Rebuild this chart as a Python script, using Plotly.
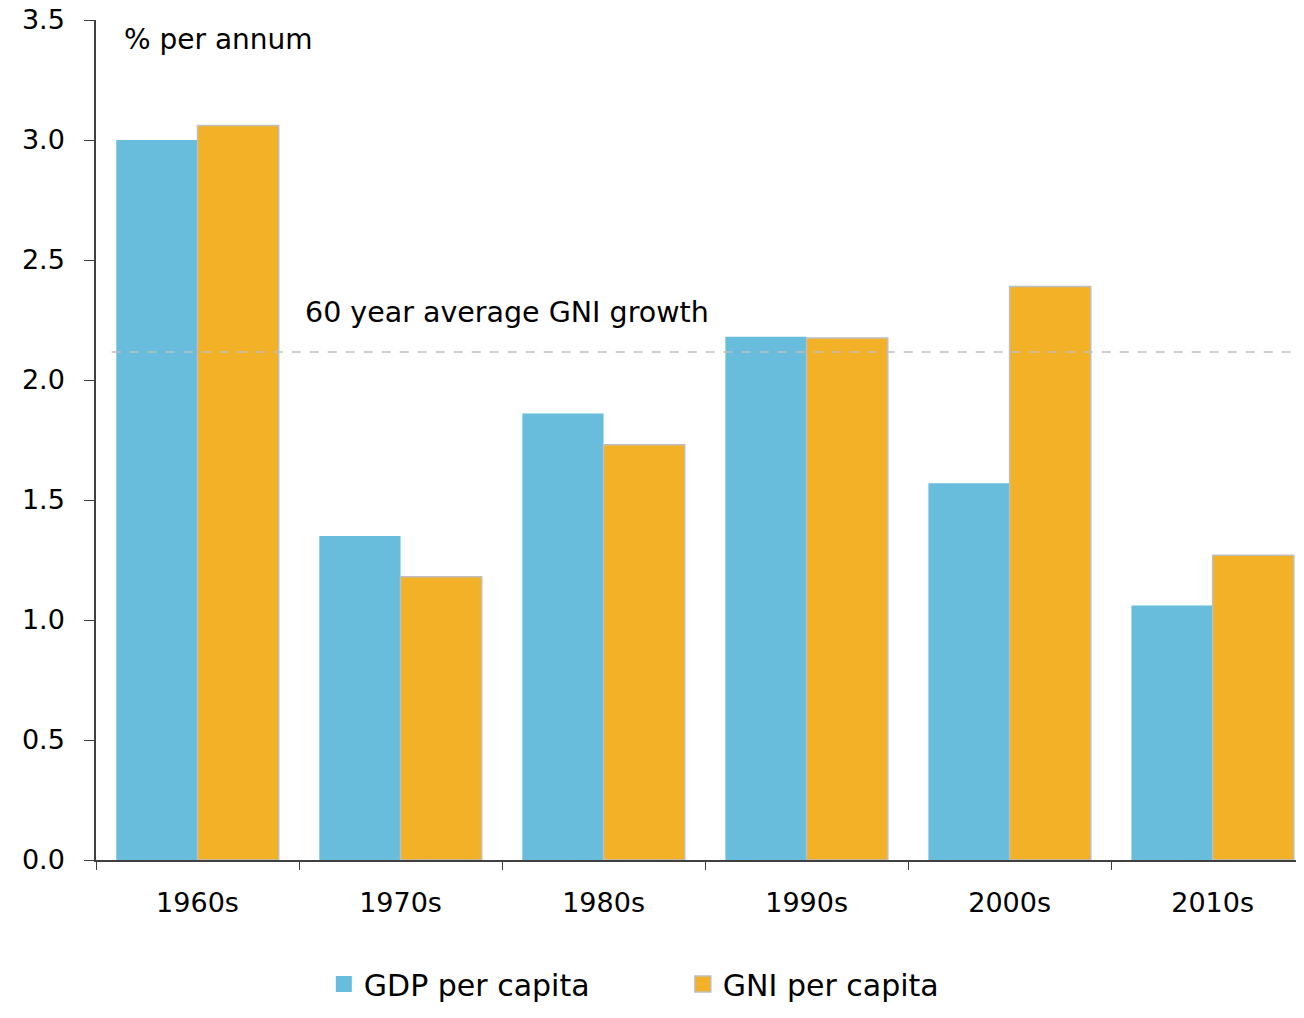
import plotly.graph_objects as go

decades = ["1960s", "1970s", "1980s", "1990s", "2000s", "2010s"]
gdp_per_capita = [3.00, 1.35, 1.86, 2.18, 1.57, 1.06]
gni_per_capita = [3.06, 1.18, 1.73, 2.175, 2.39, 1.27]
avg_gni_growth = 2.117
y_ticks = [0.0, 0.5, 1.0, 1.5, 2.0, 2.5, 3.0, 3.5]

FONT = "DejaVu Sans"
BLUE = "#67BDDB"
ORANGE = "#F2B126"
OUTLINE = "#BFBFBF"

fig = go.Figure()
fig.add_trace(go.Bar(
    x=decades, y=gdp_per_capita, name="GDP per capita", showlegend=False,
    marker=dict(color=BLUE, line=dict(width=0)),
))
fig.add_trace(go.Bar(
    x=decades, y=gni_per_capita, name="GNI per capita", showlegend=False,
    marker=dict(color=ORANGE, line=dict(color=OUTLINE, width=1.5)),
))
# legend entries (square swatches)
fig.add_trace(go.Scatter(
    x=[None], y=[None], mode="markers", name="GDP per capita",
    marker=dict(symbol="square", size=18, color=BLUE, line=dict(width=0)),
))
fig.add_trace(go.Scatter(
    x=[None], y=[None], mode="markers", name="GNI per capita",
    marker=dict(symbol="square", size=18, color=ORANGE, line=dict(color=OUTLINE, width=1.5)),
))

fig.add_shape(type="line", xref="paper", yref="y",
              x0=0.013, x1=1, y0=avg_gni_growth, y1=avg_gni_growth,
              line=dict(color="#C0C0C0", width=1.5, dash="dash"), layer="above")

fig.add_annotation(xref="paper", yref="y", x=0.171, y=2.28,
                   text="60 year average GNI growth", showarrow=False,
                   xanchor="left", yanchor="middle",
                   font=dict(family=FONT, size=28.5, color="#000000"))
fig.add_annotation(xref="paper", yref="y", x=0.0215, y=3.417,
                   text="% per annum", showarrow=False,
                   xanchor="left", yanchor="middle",
                   font=dict(family=FONT, size=28, color="#000000"))

fig.update_layout(
    width=1296, height=1002,
    margin=dict(l=88, r=0, t=12, b=150, autoexpand=False),
    paper_bgcolor="white", plot_bgcolor="white",
    barmode="group", bargap=0.2, bargroupgap=0,
    font=dict(family=FONT, size=27, color="#000000"),
    showlegend=True,
    legend=dict(orientation="h", x=0.1886, xanchor="left", y=-0.1786, yanchor="bottom",
                font=dict(family=FONT, size=30, color="#000000"),
                itemsizing="trace", entrywidth=314, entrywidthmode="pixels",
                traceorder="normal"),
    xaxis=dict(
        range=[-0.5, 5.45], showgrid=False,
        showline=True, linecolor="#404040", linewidth=2,
        ticks="outside", ticklen=8, tickcolor="#404040", tickwidth=1,
        tickson="boundaries", ticklabelstandoff=18,
        tickfont=dict(family=FONT, size=27, color="#000000"),
    ),
    yaxis=dict(
        range=[0, 3.5], tickvals=y_ticks,
        ticktext=[f"{v:.1f}" for v in y_ticks],
        showgrid=False, zeroline=False,
        showline=True, linecolor="#404040", linewidth=1.5,
        ticks="outside", ticklen=10, tickcolor="#404040",
        ticklabelstandoff=14, ticklabeloverflow="allow",
        tickfont=dict(family=FONT, size=27, color="#000000"),
    ),
)

fig.write_html("out.html")
